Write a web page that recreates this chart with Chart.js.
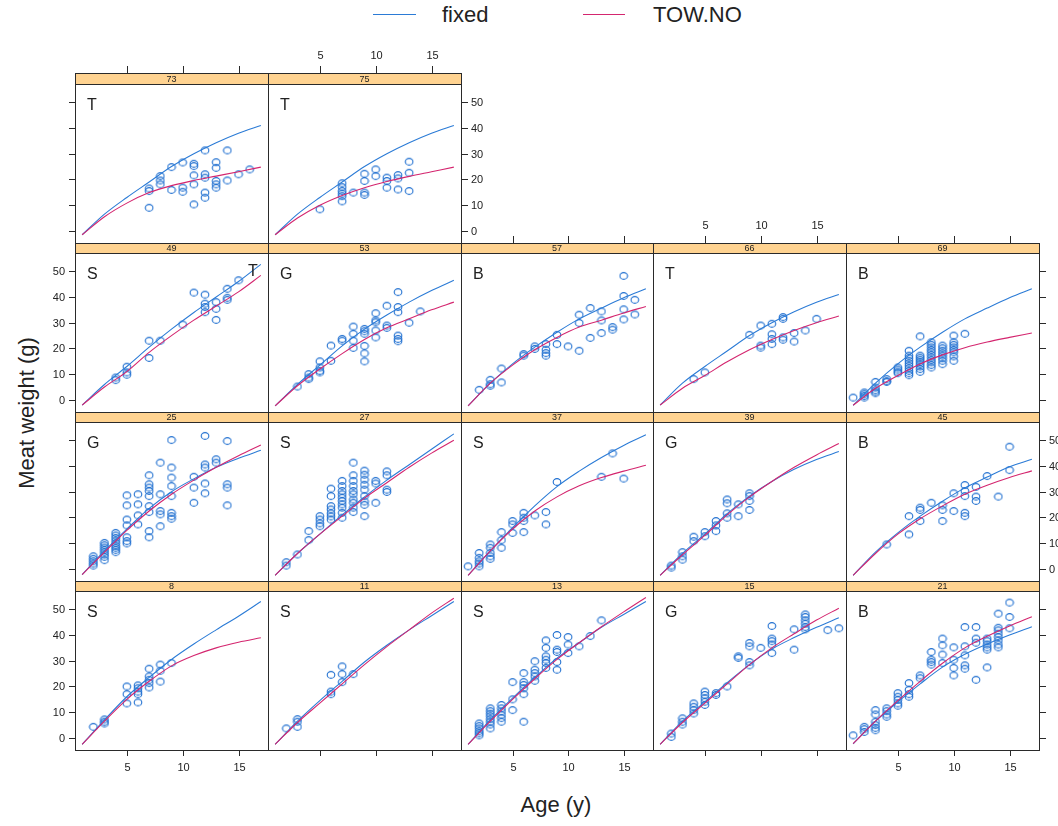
<!DOCTYPE html>
<html>
<head>
<meta charset="utf-8">
<script src="https://cdn.jsdelivr.net/npm/chart.js@4.4.0/dist/chart.umd.min.js"></script>
<style>
    body { margin: 0; background: #fff; width: 1058px; height: 826px; overflow: hidden; position: relative;
           font-family: "Liberation Sans", Arial, sans-serif; }
    canvas { position: absolute; }
    .lbl { position: absolute; color: #222; font-size: 22px; line-height: 24px; white-space: nowrap; }
    .key { position: absolute; height: 0; border-top: 1.5px solid; }
</style>
</head>
<body>
<div class="key" style="left:373px;top:14px;width:43px;border-color:#2b7bd6"></div>
<div class="lbl" style="left:442px;top:3px">fixed</div>
<div class="key" style="left:583px;top:14px;width:42px;border-color:#d4266f"></div>
<div class="lbl" style="left:653px;top:3px">TOW.NO</div>
<div class="lbl" style="left:456px;top:793px;width:200px;text-align:center">Age (y)</div>
<div class="lbl" style="left:27px;top:413px;transform:translate(-50%,-50%) rotate(-90deg)">Meat weight (g)</div>

<script>
// ages at which the two fitted curves are read
const curveAges = [1, 3, 5, 7, 9, 11, 13, 15, 17];
const xTicks = [5, 10, 15];
const yTicks = [0, 10, 20, 30, 40, 50];

// fitted curves per tow
const fixed73 = [-1.5, 6.5, 13, 19, 25, 30, 34.3, 38, 41];
const tow73   = [-1.5, 5.5, 10.8, 14.9, 17.6, 19.6, 21.3, 23, 24.8];
const fixed75 = [-1.5, 6.5, 13, 19, 25, 30, 34.3, 38, 41];
const tow75   = [-1.5, 5, 10, 13.8, 16.8, 19.2, 21.2, 23, 24.8];
const fixed49 = [-2, 6, 13, 20.5, 27.5, 34, 40, 46, 52.7];
const tow49   = [-2, 5, 11, 18.5, 25, 31, 36.5, 42, 48.4];
const fixed53 = [-2.3, 6, 13.5, 21, 27.5, 33, 38, 42.5, 46.5];
const tow53   = [-2.3, 5.5, 12, 18, 23.5, 28, 31.5, 35, 38];
const fixed57 = [-2.3, 6.5, 14, 20.5, 26.3, 31.5, 35.7, 39.7, 43.2];
const tow57   = [-2.3, 6.5, 13.5, 19.5, 24.3, 28.3, 31, 33.8, 36.3];
const fixed66 = [-2, 6.5, 13, 19, 25, 30, 34.3, 38, 41];
const tow66   = [-2, 4.5, 9.5, 14.8, 19.5, 23.5, 27, 30, 32.6];
const fixed69 = [-2.1, 6.5, 14, 20.5, 26.3, 31.5, 35.7, 39.7, 43.2];
const tow69   = [-2.1, 4.5, 9.5, 14, 17.5, 20.3, 22.5, 24.3, 26];
const fixed25 = [-2.2, 7, 15.5, 23.5, 30, 35, 39.5, 43, 46.1];
const tow25   = [-2.2, 6.5, 15, 22.5, 29, 34.5, 39.5, 44, 48.2];
const fixed27 = [-2.5, 6, 13.5, 21, 28, 34.5, 40.5, 46.5, 52.5];
const tow27   = [-2.5, 6, 13.5, 20.5, 27.5, 33.5, 39.5, 45, 50];
const fixed37 = [-2.5, 7, 16, 24.5, 32, 38, 43.3, 48, 52.1];
const tow37   = [-2.5, 7, 15.5, 22.5, 28, 32.3, 35.5, 38, 40.3];
const fixed39 = [-2.5, 6, 13.5, 21.5, 28.3, 34, 38.7, 42.5, 45.6];
const tow39   = [-2.5, 5.5, 13, 21, 28, 34, 39.5, 44.3, 48.7];
const fixed45 = [-2.5, 6.5, 14, 20.5, 26.3, 31.5, 35.7, 39.7, 42.6];
const tow45   = [-2.5, 6, 13.5, 19.5, 24.5, 29, 32.5, 35.5, 38.1];
const fixed8  = [-2.5, 7, 16, 23.5, 30.5, 36.5, 42, 47.3, 53];
const tow8    = [-2.5, 6.5, 15, 22, 28, 32, 35, 37.2, 38.9];
const fixed11 = [-2.5, 6.5, 14.5, 22, 29.5, 36, 42, 47.5, 53];
const tow11   = [-2.5, 6, 13.5, 21, 28.5, 35.5, 42, 48.5, 54.3];
const fixed13 = [-2.5, 7, 15.5, 23.5, 31, 37, 43, 48, 53];
const tow13   = [-2.5, 6.5, 15, 23, 30.5, 37, 43.2, 49, 54.6];
const fixed15 = [-2.5, 6.5, 14, 21.5, 28.5, 34.5, 39, 43, 46.7];
const tow15   = [-2.5, 6, 13.5, 21, 28.5, 35, 40.5, 45.8, 50.4];
const fixed21 = [-2.3, 6.5, 14, 21, 27.5, 32.5, 36.5, 40, 43.2];
const tow21   = [-2.2, 6.5, 14.5, 22, 29, 35, 39.5, 43.5, 47.1];

// observations: [age, weight, weight, ...]
const pts73 = [[7,9,15.5,16.5],[8,21.3,19.6,18.1],[9,24.8,15.9],[10,26.6,16.8,15.2],[11,26.1,25.2,21.6,18.1,10.3],
    [12,31.3,22,20.7,14.9,12.9],[13,26.7,24.5,19.4,18.1,16.8],[14,31.3,19.6],[15,22],[16,23.9]];
const pts75 = [[5,8.4],[7,18.5,17,15.5,14.5,13.5,11.5],[8,14.9],[9,22.2,19.4,14.9,14],[10,23.9,21.3],
    [11,20.7,19.4,16.8],[12,21.7,20.4,16.1],[13,26.9,22.6,15.5]];
const pts49 = [[4,8.7,7.7],[5,12.9,10.7,9.8],[7,23,16.3],[8,23],[10,29.3],[11,41.7],[12,40.9,37.4,36.1,34.1],
    [13,38,35.4,31.1],[14,43.2,39.7,38.9],[15,46.5]];
const pts53 = [[3,5.2],[4,10,8.7,8.1],[5,15,12.6,11.3,10.7],[6,21.1,15.2],[7,23.7,23],[8,28.5,25.7,23,20.2],
    [9,27.6,26.7,25.7,21,18.1,15],[10,33.7,30.9,30.2,27,24.3],[11,36.6,28.9,28],[12,41.9,36.1,34.1,25,23.7,22.8],
    [13,30],[14,34.4]];
const pts57 = [[2,3.9],[3,7.8,6.1,5.5],[4,12.2,6.8],[6,17.8,17.2],[7,20.8,19.8],[8,21.7,19.5,18.2,17.2],[9,25.3,21.7],
    [10,20.8],[11,33.1,29.9,19.1],[12,35.7,24.1],[13,34.4,30.9,26],[14,28.3,27.3],[15,48.2,40.4,35.2,31.3],[16,38.9,33.2]];
const pts66 = [[4,8.1],[5,10.7],[9,25.3],[10,28.9,21.1,20.3],[11,29.6,25.5,23.7,21.7],[12,32.2,31.5,24.3,23.4],
    [13,26,22.7],[14,27],[15,31.5]];
const pts69 = [[1,0.9],[2,2.9,2.2,1.5,0.9],[3,7,4.8,3.8,3.2,2.6],[4,8.1,7.3,7],[5,12.6,11.8,11,10.4],
    [6,19.1,17.2,16.2,15.2,14.2,13.3,12.3,11.3,10.4,9.6],[7,24.7,17.2,16.4,15.6,14.8,13.9,13,12,10.9],
    [8,22.4,21.4,20.4,19.4,18.5,17.5,16.5,15.5,14.6,13.6,12.6],[9,21.1,20.1,19.1,18.1,17.2,16.2,15.2,13.9],
    [10,25,22.4,21.4,20.4,19.4,18.5,16.9,15.2],[11,25.7]];
const pts25 = [[2,4.9,3.9,3,2.1,1.3],[3,10.1,9.2,8.3,7.4,6.5,5.6,4.7,3.4],[4,14,13,12,11,10,9,8.2,7.4,6.5],
    [5,28.6,24.7,19.2,16.9,12.3,10.8,9.9],[6,29,25.1,20.8,17.3],[7,36.4,32.9,31.6,30.3,28.3,24.4,22.1,14.7,12.3],
    [8,41.3,29,22.5,21.2,16.6],[9,50.1,39.4,35.5,32.2,28.3,21.8,20.5,19.5],[11,35.8,31.6,25.7],
    [12,51.7,40.6,39.4,33.2,29.4],[13,42.6,41.3],[14,49.7,32.9,31.6,24.7]];
const pts27 = [[2,2.6,1.3],[3,5.6],[4,14.7,11.2],[5,20.5,19.2,17.7,16.6],[6,31.2,28.3,24.4,23.1,21.6,20.4,19.2],
    [7,34.2,32.2,30.3,29,27.7,26.4,25.1,23.8,21.8,19.9],[8,41.3,36.4,34.2,32.2,30.3,29,27,25.7,23.8,22.1],
    [9,38.2,36.6,34.7,32.7,30.8,28.3,26.2,24.9,20.5],[10,34.2,33.2,25.7],[11,37.9,36.4,30.8,29.9]];
const pts37 = [[1,1],[2,6.2,4.3,3,2.1,1],[3,9.5,8.2,6.2,4.9,3.9],[4,14.3,11.2,8.2],[5,18.6,17.3,14],
    [6,21.8,19.9,18.6,14.3],[7,20.8],[8,22.1,17.3],[9,33.8],[13,35.8],[14,44.9],[15,35.1]];
const pts39 = [[2,1.3,0.5],[3,6.5,4.9,3.6],[4,12.5,10.8],[5,14.3,12.7],[6,18.6,16.9,14.7],[7,27,25.5,21.6,19.9],
    [8,25.1,20.5],[9,29.4,28.3,26.4,22.9]];
const pts45 = [[4,9.5],[6,20.5,13.4],[7,23.8,22.9,18.6],[8,25.7],[9,24.7,22.9,18.6],[10,29.4,22.5],
    [11,32.6,30.3,28.3,21.8,20.5],[12,31.9,28.1,26.4],[13,36.1],[14,28.1],[15,47.5,38.4]];
const pts8 = [[2,4.3],[3,7.2,6.3,5.6],[5,20,17,13.4],[6,20.4,19.3,18,17,13.8],[7,26.9,23.9,22.6,21.3,19.6],
    [8,28.5,26.1,21.9],[9,29.1]];
const pts11 = [[2,3.7],[3,7.3,6.3,4.3],[6,24.5,18,17],[7,27.8,24.8,21.7],[8,24.8]];
const pts13 = [[2,5.6,4.6,3.7,2.6,1.8,1],[3,11.5,10.4,9.4,8.4,7.3,6.3,5.2,3.7],[4,12.8,11.5,10.3,9,7.7,6.3],
    [5,21.7,15,10.8],[6,25.2,21.7,20.6,19.3,17,6.3],[7,29.8,26.5,25.2,23.9,22.2],[8,37.9,35,31.7,30.4,29.1,27.2],
    [9,40,34.3,33.4,29.5,26.5],[10,39.2,36.3,33],[11,35.6],[12,39.6],[13,45.7]];
const pts15 = [[2,1.7,0.4],[3,7.6,6.3,5.2],[4,13.4,12.1,10.8,9.5],[5,18,16.7,15.4,14.1,12.8],[6,17.4,16.7],[7,20],
    [8,31.7,31.1],[9,36.9,35.6,29.5,28.2],[10,35],[11,43.5,38.6,37.6,36.3,33],[13,42.2,34.3],
    [14,48,47,45.7,44.4,43.1,42.2],[16,41.9],[17,42.6]];
const pts21 = [[1,1],[2,4.3,3.4,2.3],[3,10.8,9.1,6.3,5,3.9,3],[4,11.5,10.4,9.1,8.2],[5,17.4,16,14.8,13.4,12.5],
    [6,21.3,18.7,17,16],[7,24.3,23.2],[8,33.4,30.4,29.5,28.5],[9,38.6,36,32.4,29.1],[10,35.2,30.4,27.2,24.3],
    [11,43.1,35.6,32.1,28.2,26.9],[12,43.1,38.6,37,22.6],[13,38.6,37.6,36.3,35.2,34.3,27.4],
    [14,48.3,42.8,41.8,40.5,39.2,37.9,36.3,35.2],[15,52.6,47,42.6]];

// panel layout; axis sides: 1 = ticks only, 2 = ticks and labels
const panels = [
    { tow: '73', site: 'T', row: 0, col: 0, fixed: fixed73, fit: tow73, pts: pts73, axes: { top: 1, left: 1 } },
    { tow: '75', site: 'T', row: 0, col: 1, fixed: fixed75, fit: tow75, pts: pts75, axes: { top: 2, right: 2 } },
    { tow: '49', site: 'S', row: 1, col: 0, fixed: fixed49, fit: tow49, pts: pts49, axes: { left: 2 }, extra: 'T' },
    { tow: '53', site: 'G', row: 1, col: 1, fixed: fixed53, fit: tow53, pts: pts53, axes: {} },
    { tow: '57', site: 'B', row: 1, col: 2, fixed: fixed57, fit: tow57, pts: pts57, axes: { top: 1 } },
    { tow: '66', site: 'T', row: 1, col: 3, fixed: fixed66, fit: tow66, pts: pts66, axes: { top: 2 } },
    { tow: '69', site: 'B', row: 1, col: 4, fixed: fixed69, fit: tow69, pts: pts69, axes: { top: 1, right: 1 } },
    { tow: '25', site: 'G', row: 2, col: 0, fixed: fixed25, fit: tow25, pts: pts25, axes: { left: 1 } },
    { tow: '27', site: 'S', row: 2, col: 1, fixed: fixed27, fit: tow27, pts: pts27, axes: {} },
    { tow: '37', site: 'S', row: 2, col: 2, fixed: fixed37, fit: tow37, pts: pts37, axes: {} },
    { tow: '39', site: 'G', row: 2, col: 3, fixed: fixed39, fit: tow39, pts: pts39, axes: {} },
    { tow: '45', site: 'B', row: 2, col: 4, fixed: fixed45, fit: tow45, pts: pts45, axes: { right: 2 } },
    { tow: '8',  site: 'S', row: 3, col: 0, fixed: fixed8,  fit: tow8,  pts: pts8,  axes: { left: 2, bottom: 2 } },
    { tow: '11', site: 'S', row: 3, col: 1, fixed: fixed11, fit: tow11, pts: pts11, axes: { bottom: 1 } },
    { tow: '13', site: 'S', row: 3, col: 2, fixed: fixed13, fit: tow13, pts: pts13, axes: { bottom: 2 } },
    { tow: '15', site: 'G', row: 3, col: 3, fixed: fixed15, fit: tow15, pts: pts15, axes: { bottom: 1 } },
    { tow: '21', site: 'B', row: 3, col: 4, fixed: fixed21, fit: tow21, pts: pts21, axes: { bottom: 2, right: 1 } }
];

const BLUE = '#2b7bd6';
const PINK = '#d4266f';
const PT = '#1f6fd0';
const INK = '#222';
const M = 34;

// open circle used as the point marker (a touch wider than tall, like the original)
const marker = document.createElement('canvas');
marker.width = 10; marker.height = 10;
(function () {
    const c = marker.getContext('2d');
    c.strokeStyle = PT;
    c.lineWidth = 1.1;
    c.beginPath();
    c.ellipse(5, 5, 3.8, 3.4, 0, 0, Math.PI * 2);
    c.stroke();
})();

/**
 * Strip, frame, ticks and the site letter for one panel
 */
const lattice = {
    id: 'lattice',
    afterDraw(chart) {
        const o = chart.options.plugins.lattice;
        const { ctx, chartArea: a } = chart;
        const sx = chart.scales.x, sy = chart.scales.y;
        const sTop = a.top - o.stripH;
        ctx.save();

        // strip
        ctx.fillStyle = '#ffd391';
        ctx.fillRect(a.left, sTop, a.right - a.left, o.stripH);
        ctx.strokeStyle = '#2a2a2a';
        ctx.lineWidth = 1;
        ctx.strokeRect(a.left + 0.5, sTop + 0.5, a.right - a.left, o.stripH);
        ctx.strokeRect(a.left + 0.5, a.top + 0.5, a.right - a.left, a.bottom - a.top);
        ctx.fillStyle = INK;
        ctx.font = '9px "Liberation Sans", Arial, sans-serif';
        ctx.textAlign = 'center';
        ctx.textBaseline = 'middle';
        ctx.fillText(o.tow, (a.left + a.right) / 2, sTop + o.stripH / 2 + 1);

        // site letter
        ctx.font = '16px "Liberation Sans", Arial, sans-serif';
        ctx.textAlign = 'left';
        ctx.fillText(o.site, a.left + 12, a.top + 22);
        if (o.extra) {
            ctx.fillText(o.extra, a.left + 173, a.top + 19);
        }

        // axes
        ctx.font = '11px "Liberation Sans", Arial, sans-serif';
        ctx.beginPath();
        const ax = o.axes;
        if (ax.top) {
            xTicks.forEach(v => {
                const px = Math.round(sx.getPixelForValue(v)) + 0.5;
                ctx.moveTo(px, sTop); ctx.lineTo(px, sTop - 7);
                if (ax.top === 2) { ctx.textAlign = 'center'; ctx.fillText(v, px, sTop - 17); }
            });
        }
        if (ax.bottom) {
            xTicks.forEach(v => {
                const px = Math.round(sx.getPixelForValue(v)) + 0.5;
                ctx.moveTo(px, a.bottom); ctx.lineTo(px, a.bottom + 6);
                if (ax.bottom === 2) { ctx.textAlign = 'center'; ctx.fillText(v, px, a.bottom + 18); }
            });
        }
        if (ax.left) {
            yTicks.forEach(v => {
                const py = Math.round(sy.getPixelForValue(v)) + 0.5;
                ctx.moveTo(a.left, py); ctx.lineTo(a.left - 6, py);
                if (ax.left === 2) { ctx.textAlign = 'right'; ctx.fillText(v, a.left - 10, py); }
            });
        }
        if (ax.right) {
            yTicks.forEach(v => {
                const py = Math.round(sy.getPixelForValue(v)) + 0.5;
                ctx.moveTo(a.right + 1, py); ctx.lineTo(a.right + 7, py);
                if (ax.right === 2) { ctx.textAlign = 'left'; ctx.fillText(v, a.right + 10, py); }
            });
        }
        ctx.stroke();
        ctx.restore();
    }
};

function curve(vals) {
    return vals.map((v, i) => ({ x: curveAges[i], y: v }));
}

function points(rows) {
    const out = [];
    rows.forEach(r => r.slice(1).forEach(w => out.push({ x: r[0], y: w })));
    return out;
}

panels.forEach(p => {
    const x0 = Math.round(75 + p.col * 192.8);
    const x1 = Math.round(75 + (p.col + 1) * 192.8);
    const sT = 73.3 + p.row * 169.2;
    const top = Math.round(sT);
    const pTop = Math.round(sT + 10.5);
    const pBot = Math.round(sT + 169.2);

    const cv = document.createElement('canvas');
    const w = (x1 - x0) + 2 * M;
    const h = (pBot - top) + 2 * M;
    cv.width = w; cv.height = h;
    cv.style.left = (x0 - M) + 'px';
    cv.style.top = (top - M) + 'px';
    cv.style.width = w + 'px';
    cv.style.height = h + 'px';
    document.body.appendChild(cv);

    new Chart(cv, {
        type: 'scatter',
        data: {
            datasets: [
                {
                    data: points(p.pts),
                    pointStyle: marker,
                    pointRadius: 4,
                    borderColor: PT,
                    backgroundColor: 'rgba(0,0,0,0)',
                    order: 3
                },
                {
                    data: curve(p.fixed),
                    showLine: true,
                    borderColor: BLUE,
                    borderWidth: 1.1,
                    pointRadius: 0,
                    cubicInterpolationMode: 'monotone',
                    order: 2
                },
                {
                    data: curve(p.fit),
                    showLine: true,
                    borderColor: PINK,
                    borderWidth: 1.1,
                    pointRadius: 0,
                    cubicInterpolationMode: 'monotone',
                    order: 1
                }
            ]
        },
        options: {
            responsive: false,
            animation: false,
            devicePixelRatio: 1,
            events: [],
            layout: { padding: { left: M, right: M, top: M + (pTop - top), bottom: M } },
            scales: {
                x: { type: 'linear', min: 0.36, max: 17.64, display: false },
                y: { type: 'linear', min: -4.7, max: 57.1, display: false }
            },
            plugins: {
                legend: { display: false },
                tooltip: { enabled: false },
                lattice: { tow: p.tow, site: p.site, extra: p.extra, axes: p.axes, stripH: pTop - top }
            }
        },
        plugins: [lattice]
    });
});
</script>
</body>
</html>
